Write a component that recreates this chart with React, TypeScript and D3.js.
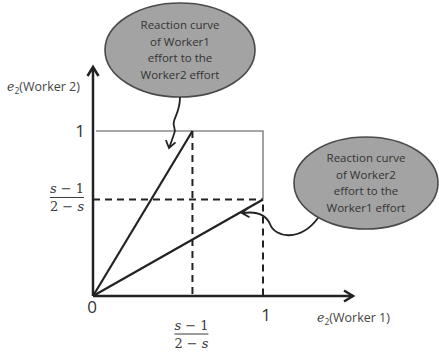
import React from "react";
import * as d3 from "d3";

// Effort domain for both workers
const effortDomain = [0, 1];
// Tick values drawn as numbers on the axes
const numericTicks = [0, 1];
// Value of (s-1)/(2-s) used for the reaction-curve end points
const reactionValue = 0.585;
// Reaction curves: Worker1 reacting to Worker2, Worker2 reacting to Worker1
const worker1Curve: [number, number][] = [[0, 0], [reactionValue, 1]];
const worker2Curve: [number, number][] = [[0, 0], [1, reactionValue]];
// Callout texts
const callout1Lines = ["Reaction curve", "of Worker1", "effort to the", "Worker2 effort"];
const callout2Lines = ["Reaction curve", "of Worker2", "effort to the", "Worker1 effort"];

const W = 439;
const H = 353;

const x = d3.scaleLinear().domain(effortDomain).range([93, 263]);
const y = d3.scaleLinear().domain(effortDomain).range([296, 131]);

const ink = "#222";
const textInk = "#3a3a3a";
const sans = "'Open Sans', 'Noto Sans', sans-serif";
const serif = "'DejaVu Serif', serif";

function chevron(tipX: number, tipY: number, fromX: number, fromY: number, len: number, half: number) {
  const dx = tipX - fromX;
  const dy = tipY - fromY;
  const d = Math.hypot(dx, dy);
  const ux = dx / d;
  const uy = dy / d;
  const bx = tipX - ux * len;
  const by = tipY - uy * len;
  const px = -uy * half;
  const py = ux * half;
  return `M${bx + px},${by + py}L${tipX},${tipY}L${bx - px},${by - py}`;
}

function Fraction({ cx, cy }: { cx: number; cy: number }) {
  return (
    <g fontFamily={serif} fontSize={13} fill={textInk} textAnchor="middle">
      <text x={cx} y={cy - 4}>
        <tspan fontStyle="italic">s</tspan> − 1
      </text>
      <line x1={cx - 17} x2={cx + 17} y1={cy} y2={cy} stroke={textInk} strokeWidth={1} />
      <text x={cx} y={cy + 14}>
        2 − <tspan fontStyle="italic">s</tspan>
      </text>
    </g>
  );
}

function Callout({ cx, cy, rx, ry, lines }: { cx: number; cy: number; rx: number; ry: number; lines: string[] }) {
  const lh = 16.6;
  const top = cy - (lh * (lines.length - 1)) / 2;
  return (
    <g>
      <ellipse cx={cx} cy={cy} rx={rx} ry={ry} fill="#a3a3a3" stroke="#4a4a4a" strokeWidth={1.6} />
      {lines.map((t, i) => (
        <text
          key={i}
          x={cx}
          y={top + i * lh}
          dy="0.35em"
          textAnchor="middle"
          fontFamily={sans}
          fontSize={11.5}
          fill="#333"
        >
          {t}
        </text>
      ))}
    </g>
  );
}

export default function App() {
  const line = d3
    .line<[number, number]>()
    .x((d) => x(d[0]))
    .y((d) => y(d[1]));

  const x0 = x(0);
  const y0 = y(0);
  const xEnd = 353;
  const yEnd = 67;

  return (
    <svg width={W} height={H} style={{ position: "absolute", left: 0, top: 0, background: "#fff" }}>
      {/* Outer bound of the effort square */}
      <path
        d={`M${x(0) + 3},${y(1)}H${x(1)}V${y(reactionValue)}`}
        fill="none"
        stroke="#8a8a8a"
        strokeWidth={1.6}
      />
      {/* Guides at (s-1)/(2-s) and at effort 1 */}
      <g stroke={ink} strokeWidth={2} strokeDasharray="7 5" fill="none">
        <line x1={x(0)} x2={x(1)} y1={y(reactionValue)} y2={y(reactionValue)} />
        <line x1={x(reactionValue)} x2={x(reactionValue)} y1={y(1)} y2={y(0)} />
        <line x1={x(1)} x2={x(1)} y1={y(reactionValue) + 5} y2={y(0)} />
      </g>

      {/* Reaction curves */}
      <path d={line(worker1Curve) || ""} fill="none" stroke={ink} strokeWidth={2.2} />
      <path d={line(worker2Curve) || ""} fill="none" stroke={ink} strokeWidth={2.2} />

      {/* Axes with arrow heads */}
      <g stroke={ink} strokeWidth={2.5} fill="none" strokeLinejoin="miter">
        <line x1={x0} y1={y0} x2={xEnd} y2={y0} />
        <line x1={x0} y1={y0} x2={x0} y2={yEnd + 1} />
        <path d={chevron(xEnd, y0, x0, y0, 9, 5.5)} />
        <path d={chevron(x0, yEnd, x0, y0, 9, 5.5)} />
      </g>

      {/* Numeric tick labels */}
      <g fontFamily={sans} fontSize={17} fill="#333" textAnchor="middle">
        {numericTicks.map((t) =>
          t === 0 ? (
            <text key={`o${t}`} x={x(0) - 1} y={y(0) + 17}>
              {t}
            </text>
          ) : (
            <g key={`t${t}`}>
              <text x={x(t) + 3} y={y(0) + 25}>
                {t}
              </text>
              <text x={x(0) - 13} y={y(t) + 6}>
                {t}
              </text>
            </g>
          )
        )}
      </g>

      {/* Symbolic tick labels */}
      <Fraction cx={x(reactionValue) - 1} cy={334} />
      <Fraction cx={67} cy={y(reactionValue) - 2} />

      {/* Axis titles */}
      <g fontFamily={sans} fontSize={12.5} fill="#444">
        <text x={7} y={91}>
          <tspan fontFamily={serif} fontStyle="italic">e</tspan>
          <tspan fontSize={8.5} dy={3}>2</tspan>
          <tspan dy={-3}>(Worker 2)</tspan>
        </text>
        <text x={317} y={322}>
          <tspan fontFamily={serif} fontStyle="italic">e</tspan>
          <tspan fontSize={8.5} dy={3}>2</tspan>
          <tspan dy={-3}>(Worker 1)</tspan>
        </text>
      </g>

      {/* Callouts */}
      <Callout cx={180} cy={50} rx={75} ry={47} lines={callout1Lines} />
      <Callout cx={366} cy={183} rx={72} ry={46} lines={callout2Lines} />

      <g stroke={ink} strokeWidth={1.8} fill="none">
        <path d="M180,97 C180,110 176,114 174,121 C172,127 177,128 174,134 L169.5,147" />
        <path d={chevron(169, 148, 172, 136, 7, 5)} />
        <path d="M243,213 C257,211 266,215 270,224 C275,238 300,242 318,218" />
        <path d={chevron(242, 213, 252, 212, 7, 5)} />
      </g>
    </svg>
  );
}
